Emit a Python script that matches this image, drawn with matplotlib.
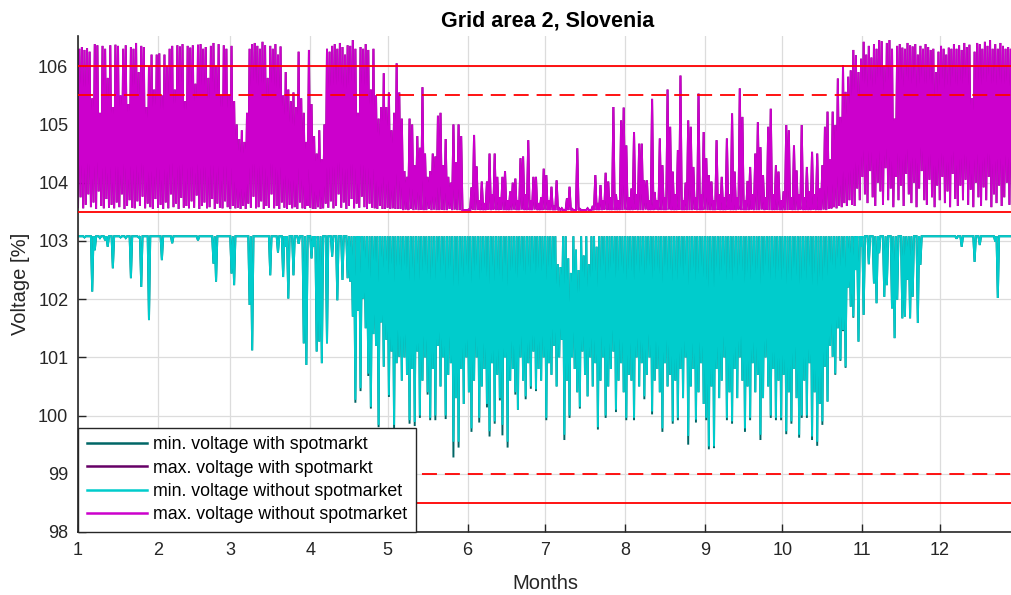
import numpy as np
import matplotlib
matplotlib.use("Agg")
import matplotlib.pyplot as plt

plt.rcParams["font.family"] = ["Liberation Sans", "DejaVu Sans"]

# ---- axis data ----
MONTH_START_DAYS = [0, 31, 59, 90, 120, 151, 181, 212, 243, 273, 304, 334]
MONTH_LABELS = ["1", "2", "3", "4", "5", "6", "7", "8", "9", "10", "11", "12"]
LIMITS_SOLID = [106.0, 103.5, 98.5]
LIMITS_DASHED = [105.5, 99.0]

# ---- daily peaks of the max. voltage (without spotmarket) ----
MAX_HI = [
    106.30, 106.33, 106.28, 106.31, 106.25, 105.45, 106.38,
    106.36, 105.20, 106.35, 106.30, 105.80, 106.36, 105.30,
    106.37, 106.35, 105.50, 106.30, 106.36, 105.35, 106.33,
    106.30, 106.40, 105.90, 106.35, 106.33, 105.30, 106.00,
    106.20, 105.60, 106.20, 106.22, 105.50, 106.20, 106.00,
    106.30, 106.35, 105.60, 106.36, 106.34, 106.38, 105.40,
    106.35, 106.32, 106.36, 105.70, 106.37, 106.38, 106.30,
    106.33, 105.80, 106.35, 106.40, 106.00, 106.38, 105.50,
    106.36, 106.30, 105.50, 106.35, 105.40, 105.00, 104.75,
    104.90, 104.70, 105.20, 106.30, 106.38, 106.40, 106.35,
    106.30, 106.42, 106.36, 105.80, 106.35, 106.30, 106.38,
    106.20, 106.34, 105.50, 105.90, 105.60, 105.40, 105.55,
    105.30, 106.25, 105.45, 105.20, 104.70, 106.28, 105.35,
    104.80, 104.50, 104.90, 104.40, 105.00, 106.30, 106.25,
    106.35, 106.38, 106.30, 106.40, 106.33, 106.20, 106.36,
    106.35, 106.45, 106.30, 105.20, 106.33, 106.30, 106.38,
    106.28, 105.60, 106.30, 105.50, 105.10, 105.30, 105.88,
    105.30, 105.55, 104.90, 105.20, 106.05, 105.55, 105.10,
    104.20, 104.10, 105.10, 105.00, 104.30, 104.80, 104.60,
    105.64, 104.50, 104.10, 104.20, 104.50, 104.45, 105.15,
    105.20, 104.30, 104.75, 104.10, 104.00, 105.00, 104.35,
    105.00, 104.80, 103.53, 103.53, 103.54, 103.92, 104.82,
    104.28, 103.70, 104.02, 103.65, 104.02, 104.50, 103.80,
    104.50, 104.10, 103.75, 104.10, 104.20, 103.70, 103.85,
    104.00, 104.07, 103.70, 104.42, 104.45, 103.80, 104.73,
    103.70, 104.10, 104.10, 103.65, 103.75, 104.24, 104.13,
    103.70, 103.93, 103.60, 104.04, 103.56, 103.56, 103.53,
    103.73, 103.93, 103.55, 103.53, 104.59, 103.55, 103.53,
    103.53, 103.56, 103.53, 103.60, 104.13, 103.65, 103.96,
    103.70, 104.17, 104.02, 103.75, 105.30, 103.80, 103.70,
    105.07, 105.29, 104.64, 103.75, 103.90, 104.87, 103.80,
    104.67, 104.67, 104.04, 104.04, 103.70, 105.44, 103.84,
    103.70, 104.76, 104.30, 103.75, 105.60, 104.96, 104.19,
    103.80, 104.56, 105.84, 103.70, 104.00, 105.07, 104.96,
    104.27, 103.75, 105.53, 103.80, 104.87, 104.42, 104.13,
    104.02, 103.70, 104.73, 103.80, 104.10, 103.75, 104.76,
    103.80, 105.19, 104.19, 103.75, 105.62, 105.13, 103.70,
    104.03, 104.27, 103.80, 104.50, 105.04, 104.61, 104.13,
    103.75, 104.96, 105.27, 103.80, 104.30, 104.19, 103.70,
    103.85, 104.99, 104.90, 103.75, 104.64, 104.21, 103.80,
    104.99, 103.75, 104.27, 103.85, 104.53, 103.80, 104.50,
    103.90, 104.30, 104.96, 105.22, 104.40, 105.22, 104.99,
    105.79, 105.13, 106.02, 105.56, 105.82, 105.93, 106.28,
    106.19, 105.90, 106.13, 106.42, 106.20, 106.35, 106.15,
    106.38, 106.30, 106.45, 106.43, 106.00, 106.40, 106.45,
    106.30, 105.10, 106.35, 106.38, 106.32, 106.30, 106.40,
    106.36, 106.34, 106.38, 106.20, 106.35, 106.30, 106.38,
    106.33, 106.28, 106.30, 105.90, 106.25, 106.35, 106.30,
    106.20, 106.32, 106.30, 106.38, 106.30, 106.36, 106.28,
    106.40, 106.33, 106.37, 105.45, 106.25, 106.40, 106.38,
    106.30, 106.42, 106.35, 106.45, 106.30, 106.38, 106.30,
    106.40, 106.35, 106.30, 106.33, 106.30, 106.38, 106.35,
]

# daily lows of the max. voltage
MAX_LO = [
    103.58, 103.75, 103.56, 103.62, 103.80, 103.58, 103.66,
    103.55, 103.85, 103.60, 103.56, 103.72, 103.57, 103.62,
    103.56, 103.66, 103.58, 103.80, 103.55, 103.60, 103.70,
    103.57, 103.56, 103.68, 103.60, 103.76, 103.56, 103.64,
    103.58, 103.55, 103.72, 103.57, 103.62, 103.55, 103.66,
    103.56, 103.80, 103.58, 103.64, 103.55, 103.74, 103.57,
    103.60, 103.56, 103.68, 103.57, 103.78, 103.55, 103.60,
    103.66, 103.56, 103.58, 103.72, 103.55, 103.64, 103.57,
    103.56, 103.68, 103.58, 103.55, 103.60, 103.56, 103.57,
    103.55, 103.60, 103.55, 103.64, 103.57, 103.76, 103.56,
    103.58, 103.68, 103.55, 103.60, 103.57, 103.80, 103.56,
    103.60, 103.55, 103.66, 103.57, 103.55, 103.62, 103.56,
    103.58, 103.55, 103.66, 103.56, 103.55, 103.60, 103.57,
    103.55, 103.55, 103.58, 103.55, 103.56, 103.64, 103.57,
    103.68, 103.56, 103.60, 103.80, 103.57, 103.66, 103.55,
    103.60, 103.72, 103.56, 103.64, 103.57, 103.76, 103.58,
    103.55, 103.64, 103.57, 103.56, 103.55, 103.60, 103.55,
    103.55, 103.57, 103.55, 103.56, 103.55, 103.55, 103.55,
    103.53, 103.54, 103.53, 103.55, 103.53, 103.54, 103.53,
    103.54, 103.53, 103.53, 103.55, 103.53, 103.54, 103.53,
    103.53, 103.54, 103.53, 103.53, 103.55, 103.53, 103.54,
    103.53, 103.53, 103.53, 103.53, 103.53, 103.53, 103.54,
    103.53, 103.54, 103.53, 103.53, 103.53, 103.54, 103.53,
    103.54, 103.53, 103.53, 103.54, 103.53, 103.53, 103.53,
    103.53, 103.54, 103.53, 103.53, 103.54, 103.53, 103.53,
    103.53, 103.53, 103.54, 103.53, 103.53, 103.53, 103.54,
    103.53, 103.53, 103.53, 103.53, 103.53, 103.53, 103.53,
    103.53, 103.53, 103.53, 103.53, 103.53, 103.53, 103.53,
    103.53, 103.53, 103.53, 103.53, 103.53, 103.53, 103.53,
    103.53, 103.54, 103.53, 103.53, 103.53, 103.53, 103.53,
    103.53, 103.53, 103.54, 103.53, 103.53, 103.53, 103.54,
    103.53, 103.53, 103.53, 103.54, 103.53, 103.53, 103.53,
    103.54, 103.53, 103.53, 103.53, 103.53, 103.54, 103.53,
    103.53, 103.53, 103.54, 103.53, 103.53, 103.53, 103.53,
    103.53, 103.54, 103.53, 103.53, 103.53, 103.54, 103.53,
    103.53, 103.53, 103.53, 103.54, 103.53, 103.53, 103.53,
    103.54, 103.53, 103.53, 103.53, 103.54, 103.53, 103.53,
    103.53, 103.53, 103.54, 103.53, 103.53, 103.53, 103.54,
    103.53, 103.54, 103.53, 103.53, 103.53, 103.53, 103.53,
    103.53, 103.53, 103.53, 103.54, 103.53, 103.53, 103.53,
    103.54, 103.53, 103.53, 103.53, 103.53, 103.54, 103.53,
    103.53, 103.53, 103.54, 103.53, 103.55, 103.56, 103.58,
    103.56, 103.60, 103.58, 103.65, 103.60, 103.70, 103.62,
    103.60, 103.90, 103.70, 104.10, 103.80, 103.65, 104.20,
    103.75, 103.60, 104.00, 103.85, 103.62, 104.25, 103.70,
    103.90, 103.58, 104.10, 103.70, 103.95, 103.60, 104.15,
    103.80, 103.65, 104.00, 103.58, 103.90, 104.20, 103.70,
    103.62, 104.05, 103.75, 103.58, 103.95, 103.70, 104.10,
    103.65, 103.85, 103.58, 104.15, 103.72, 103.60, 103.95,
    103.70, 104.05, 103.62, 103.88, 103.58, 104.00, 103.75,
    103.60, 103.92, 103.70, 104.10, 103.58, 103.80, 103.65,
    103.95, 103.60, 103.75, 104.00, 103.62, 103.85, 103.70,
]

# daily dips of the min. voltage (without spotmarket)
MIN_LO = [
    103.08, 103.08, 103.06, 103.08, 103.08, 102.13, 102.84,
    103.08, 103.05, 103.08, 103.01, 102.90, 103.08, 102.53,
    103.08, 103.08, 103.06, 103.08, 103.05, 103.08, 102.36,
    103.08, 103.08, 103.06, 102.21, 103.08, 103.08, 101.64,
    103.08, 103.08, 103.08, 103.08, 102.67, 103.08, 103.08,
    103.08, 102.96, 103.08, 103.08, 103.08, 103.08, 103.08,
    103.08, 103.08, 103.08, 103.08, 103.01, 103.08, 103.08,
    103.08, 103.08, 103.08, 102.61, 102.30, 103.08, 103.08,
    103.08, 103.08, 103.08, 102.44, 102.24, 103.08, 103.08,
    103.08, 103.08, 103.08, 101.90, 101.12, 103.08, 103.08,
    103.08, 103.08, 103.08, 103.08, 102.41, 103.08, 103.08,
    102.80, 103.08, 102.38, 102.90, 102.01, 103.08, 102.41,
    103.08, 102.95, 103.08, 101.24, 100.87, 103.08, 102.70,
    102.90, 101.10, 101.27, 100.90, 103.08, 101.24, 103.08,
    102.73, 103.08, 101.98, 103.08, 102.33, 103.08, 102.36,
    102.30, 101.70, 100.27, 101.80, 100.47, 102.01, 101.50,
    100.72, 100.15, 101.40, 101.20, 99.84, 101.60, 100.84,
    101.30, 100.35, 101.10, 99.84, 100.90, 101.01, 100.60,
    101.00, 100.70, 99.92, 100.80, 99.89, 101.10, 100.00,
    100.60, 101.00, 100.40, 99.96, 100.80, 100.00, 101.20,
    100.50, 101.00, 100.00, 100.70, 100.90, 99.55, 100.30,
    99.55, 100.80, 100.20, 101.00, 100.40, 99.78, 100.60,
    101.00, 99.96, 100.50, 100.80, 100.20, 99.73, 100.90,
    99.90, 100.70, 100.30, 99.84, 101.00, 99.55, 100.60,
    100.80, 100.40, 100.10, 101.00, 100.60, 100.33, 100.90,
    100.50, 101.10, 100.45, 100.80, 100.60, 101.00, 99.96,
    100.90, 100.70, 101.20, 100.50, 101.00, 101.30, 99.67,
    100.60, 100.00, 101.00, 100.80, 100.40, 100.15, 101.10,
    100.70, 100.33, 101.00, 100.50, 100.90, 99.80, 100.60,
    101.00, 100.00, 100.50, 100.80, 101.10, 100.10, 100.60,
    100.90, 100.40, 99.96, 100.70, 100.60, 99.96, 101.00,
    100.50, 100.90, 100.33, 100.70, 101.00, 100.07, 100.60,
    100.80, 100.40, 99.78, 100.90, 100.50, 100.70, 99.90,
    100.60, 99.96, 100.80, 100.30, 101.00, 99.65, 100.50,
    100.80, 99.93, 100.40, 100.90, 100.20, 99.96, 99.47,
    100.50, 99.47, 100.80, 100.30, 100.60, 101.00, 99.96,
    100.40, 99.90, 100.80, 100.30, 101.00, 100.60, 99.78,
    100.50, 99.96, 100.90, 100.40, 100.70, 99.67, 100.30,
    101.00, 100.50, 100.00, 100.80, 99.96, 100.60, 99.96,
    100.70, 99.73, 100.40, 99.90, 100.80, 100.30, 99.67,
    100.00, 100.60, 100.00, 100.90, 99.64, 100.40, 99.55,
    100.20, 99.90, 100.84, 100.24, 101.20, 101.01, 100.72,
    101.50, 100.96, 101.47, 100.84, 102.20, 101.87, 101.70,
    102.50, 101.27, 102.90, 101.73, 103.08, 102.60, 103.08,
    102.27, 101.93, 102.79, 103.08, 102.04, 102.24, 103.08,
    101.84, 101.33, 101.99, 103.08, 101.67, 101.70, 102.33,
    101.67, 102.04, 103.08, 101.59, 102.59, 103.08, 103.08,
    103.08, 103.08, 103.08, 103.08, 103.08, 103.08, 103.08,
    103.08, 103.08, 103.08, 103.08, 103.04, 103.08, 102.90,
    103.08, 103.08, 103.08, 103.08, 102.64, 103.08, 102.93,
    103.08, 103.08, 103.08, 103.08, 103.08, 102.99, 102.02,
    103.08, 103.08, 103.08, 103.08, 103.08, 103.08, 103.08,
]

# daily tops of the min. voltage: flat no-load level, lower in early July
MIN_HI_LEVEL = 103.08
MIN_HI_JULY_START = 182
MIN_HI_JULY = [
    103.08, 103.08, 103.08, 103.08, 102.60, 102.55, 103.08,
    103.08, 102.70, 102.45, 103.08, 102.85, 102.50, 103.08,
    102.75, 103.08, 102.60, 103.08, 103.08, 102.90, 103.08,
]

# dips with spotmarket where they go deeper than without (days 105..300)
SPOT_START = 105
MIN_LO_SPOT_SUMMER = [
    102.30, 101.70, 100.22, 101.80, 100.42, 102.01, 101.50,
    100.68, 100.12, 101.40, 101.20, 99.80, 101.60, 100.84,
    101.30, 100.32, 101.10, 99.78, 100.90, 101.01, 100.60,
    101.00, 100.70, 99.86, 100.80, 99.82, 101.10, 99.96,
    100.60, 101.00, 100.36, 99.92, 100.80, 99.92, 101.20,
    100.50, 101.00, 99.94, 100.70, 100.90, 99.28, 100.30,
    99.45, 100.80, 100.20, 101.00, 100.40, 99.72, 100.60,
    101.00, 99.88, 100.50, 100.80, 100.14, 99.64, 100.90,
    99.86, 100.70, 100.26, 99.66, 101.00, 99.45, 100.60,
    100.80, 100.36, 100.10, 101.00, 100.60, 100.28, 100.90,
    100.46, 101.10, 100.42, 100.80, 100.60, 101.00, 99.92,
    100.90, 100.70, 101.20, 100.50, 101.00, 101.30, 99.58,
    100.60, 99.96, 101.00, 100.80, 100.40, 100.12, 101.10,
    100.70, 100.33, 101.00, 100.50, 100.90, 99.76, 100.60,
    101.00, 99.96, 100.50, 100.80, 101.10, 100.06, 100.60,
    100.90, 100.40, 99.92, 100.70, 100.60, 99.92, 101.00,
    100.50, 100.90, 100.28, 100.70, 101.00, 100.02, 100.60,
    100.80, 100.40, 99.72, 100.90, 100.50, 100.70, 99.86,
    100.60, 99.92, 100.80, 100.30, 101.00, 99.50, 100.50,
    100.80, 99.88, 100.40, 100.90, 100.20, 99.92, 99.42,
    100.50, 99.44, 100.80, 100.30, 100.60, 101.00, 99.92,
    100.40, 99.86, 100.80, 100.30, 101.00, 100.60, 99.72,
    100.50, 99.92, 100.90, 100.40, 100.70, 99.58, 100.30,
    101.00, 100.50, 99.96, 100.80, 99.92, 100.60, 99.92,
    100.70, 99.68, 100.40, 99.86, 100.80, 100.30, 99.62,
    99.96, 100.60, 99.96, 100.90, 99.58, 100.40, 99.48,
    100.20, 99.84, 100.84, 100.24, 101.20, 101.01, 100.70,
    101.50, 100.94, 101.45, 100.82, 102.20, 101.87, 101.68,
]

# ---- build series ----
n_days = len(MAX_HI)
min_hi = np.full(n_days, MIN_HI_LEVEL)
min_hi[MIN_HI_JULY_START:MIN_HI_JULY_START + len(MIN_HI_JULY)] = MIN_HI_JULY
min_lo_spot = np.array(MIN_LO, float)
min_lo_spot[SPOT_START:SPOT_START + len(MIN_LO_SPOT_SUMMER)] = MIN_LO_SPOT_SUMMER


def daily(first, second):
    # two samples per day: one at midnight, one at noon
    d = np.arange(len(first))
    x = np.column_stack([d, d + 0.5]).ravel()
    y = np.column_stack([first, second]).ravel()
    return x, y


series = [
    ("min. voltage with spotmarkt", daily(min_hi, min_lo_spot), "#006666"),
    ("max. voltage with spotmarkt", daily(MAX_LO, MAX_HI), "#660066"),
    ("min. voltage without spotmarket", daily(min_hi, MIN_LO), "#00CCCC"),
    ("max. voltage without spotmarket", daily(MAX_LO, MAX_HI), "#CC00CC"),
]

# ---- plot ----
fig = plt.figure(figsize=(10.12, 5.95), dpi=100)
ax = fig.add_axes([0.0771, 0.1059, 0.9229, 0.8336])

for label, (x, y), color in series:
    ax.plot(x, y, color=color, linewidth=1.4, label=label, zorder=2,
            solid_joinstyle="miter")

for v in LIMITS_SOLID:
    ax.axhline(v, color="#ff0000", linewidth=1.3, zorder=3)
for v in LIMITS_DASHED:
    ax.axhline(v, color="#ff0000", linewidth=1.3, dashes=(8.3, 4.4), zorder=3)

ax.set_xlim(0, 362)
ax.set_ylim(98, 106.52)
ax.set_xticks(MONTH_START_DAYS)
ax.set_xticklabels(MONTH_LABELS)
ax.set_yticks(np.arange(98, 107, 1))

ax.grid(True, color="#dcdcdc", linewidth=0.9, zorder=0)
ax.set_axisbelow(True)
for side in ["top", "right"]:
    ax.spines[side].set_visible(False)
for side in ["left", "bottom"]:
    ax.spines[side].set_color("#262626")
    ax.spines[side].set_linewidth(1.2)
ax.tick_params(direction="in", length=6, width=1.0, colors="#262626",
               labelsize=13, pad=7)

ax.set_title("Grid area 2, Slovenia", fontsize=15.5, fontweight="bold", pad=7,
             x=0.503)
ax.set_xlabel("Months", fontsize=14.5, color="#262626", labelpad=11)
ax.set_ylabel("Voltage [%]", fontsize=14.5, color="#262626", labelpad=6)

leg = ax.legend(loc="lower left", borderaxespad=0, fontsize=12.8, fancybox=False,
                framealpha=1, edgecolor="#262626", handlelength=3.4,
                handletextpad=0.3, labelspacing=0.35, borderpad=0.5)
leg.get_frame().set_linewidth(1.0)
for h in leg.get_lines():
    h.set_linewidth(1.8)
leg.set_zorder(5)

fig.savefig("out.png", dpi=100)
